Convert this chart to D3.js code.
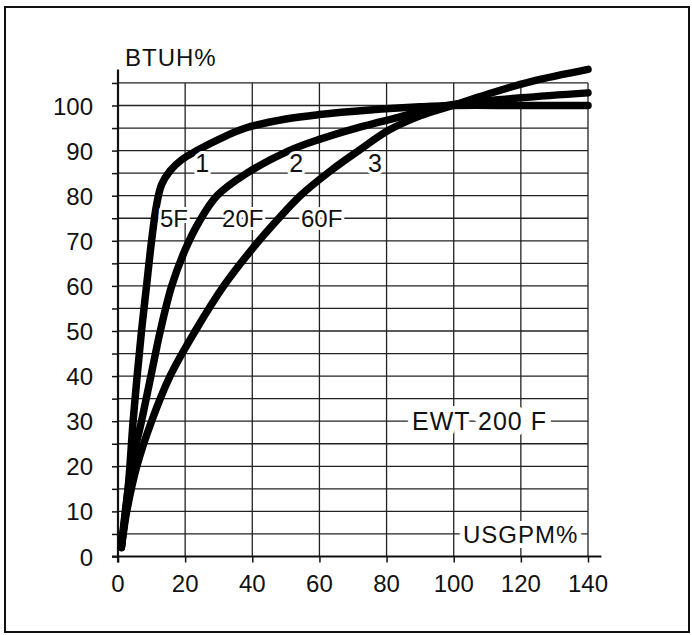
<!DOCTYPE html>
<html>
<head>
<meta charset="utf-8">
<script src="https://cdn.jsdelivr.net/npm/d3@7"></script>
<style>
  body { margin: 0; background: #fff; }
  svg text { font-family: "Liberation Sans", Arial, sans-serif; fill: #111; }
</style>
</head>
<body>
<div id="chart"></div>
<script>
// tick values
var xTicks = [0, 20, 40, 60, 80, 100, 120, 140];
var yTicks = [0, 10, 20, 30, 40, 50, 60, 70, 80, 90, 100];
var yGrid = d3.range(5, 106, 5);

// curves, [USGPM%, BTUH%]
var curve5F = [[1,2],[3,15],[4.5,30],[5.7,40],[7,50],[8.5,60],[10,70],[11.5,78],[13,82.5],[15.5,85.5],[19,88],
  [23.5,90],[30,92.5],[38,95],[50,97],[60,98],[75,99],[90,99.7],[100,100],[120,100],[140,100]];
var curve20F = [[1,2],[4,20],[7,30],[9.8,40],[12.6,50],[16,60],[20,68],[24,74],[29.5,80],[38.4,85],
  [51,90],[60,92.5],[71,95],[84,97.5],[98,100],[120,101.7],[140,102.8]];
var curve60F = [[1,2],[2.6,10],[5.6,20],[10,30],[15.5,40],[23,50],[31.5,60],[40.3,68.5],
  [47.3,74.5],[54.3,80],[63.3,85.5],[71.7,90],[80.6,94.5],[90,97.7],[99.6,100],[110,102.5],[123,105.3],[140,108]];

var curveNames = ["1", "2", "3"];
var curveTemps = ["5F", "20F", "60F"];

var width = 692, height = 635;
var svg = d3.select("#chart").append("svg")
  .attr("width", width)
  .attr("height", height);

// outer frame
svg.append("rect")
  .attr("x", 5).attr("y", 7)
  .attr("width", 684).attr("height", 625)
  .attr("fill", "none").attr("stroke", "#111").attr("stroke-width", 2);

var x = d3.scaleLinear().domain([0, 140]).range([118, 588]);
var y = d3.scaleLinear().domain([0, 100]).range([556.5, 105.5]);

// grid
svg.selectAll(".hgrid").data(yGrid).enter().append("line")
  .attr("x1", x(0)).attr("x2", x(140))
  .attr("y1", function(d){ return y(d); })
  .attr("y2", function(d){ return y(d); })
  .attr("stroke", "#222").attr("stroke-width", 1.3);

svg.selectAll(".vgrid").data(xTicks.slice(1)).enter().append("line")
  .attr("x1", function(d){ return x(d); })
  .attr("x2", function(d){ return x(d); })
  .attr("y1", y(0)).attr("y2", y(105))
  .attr("stroke", "#222").attr("stroke-width", 1.3);

// axes
var yAxis = d3.axisLeft(y).tickValues(yGrid.concat([0])).tickSize(6).tickFormat("");
var xAxis = d3.axisBottom(x).tickValues(xTicks).tickSize(6).tickFormat("");
var gy = svg.append("g").attr("transform", "translate(" + x(0) + ",0)").call(yAxis);
var gx = svg.append("g").attr("transform", "translate(0," + y(0) + ")").call(xAxis);
[gx, gy].forEach(function(g){
  g.select(".domain").remove();
  g.selectAll(".tick line").attr("stroke", "#111").attr("stroke-width", 1.5);
});

svg.append("line")
  .attr("x1", x(0)).attr("x2", x(0))
  .attr("y1", y(0) + 6).attr("y2", y(108))
  .attr("stroke", "#111").attr("stroke-width", 2.2);
svg.append("line")
  .attr("x1", x(0) - 6).attr("x2", x(144))
  .attr("y1", y(0)).attr("y2", y(0))
  .attr("stroke", "#111").attr("stroke-width", 2.2);

// tick labels
svg.selectAll(".ylab").data(yTicks).enter().append("text")
  .attr("x", 93)
  .attr("y", function(d){ return y(d) + 9; })
  .attr("text-anchor", "end")
  .attr("font-size", 24)
  .text(function(d){ return d; });

svg.selectAll(".xlab").data(xTicks).enter().append("text")
  .attr("x", function(d){ return x(d); })
  .attr("y", 592)
  .attr("text-anchor", "middle")
  .attr("font-size", 24)
  .text(function(d){ return d; });

// curves
var line = d3.line()
  .x(function(d){ return x(d[0]); })
  .y(function(d){ return y(d[1]); })
  .curve(d3.curveCatmullRom.alpha(0.5));

svg.selectAll(".curve").data([curve5F, curve20F, curve60F]).enter().append("path")
  .attr("d", line)
  .attr("fill", "none")
  .attr("stroke", "#000")
  .attr("stroke-width", 7.5)
  .attr("stroke-linecap", "round")
  .attr("stroke-linejoin", "round");

// labels with white halo
function halo(sel) {
  return sel.attr("stroke", "#fff").attr("stroke-width", 6)
    .attr("paint-order", "stroke").attr("stroke-linejoin", "round");
}

var numPos = [23, 51, 74.5];
svg.selectAll(".num").data(curveNames).enter().append("text")
  .attr("x", function(d, i){ return x(numPos[i]); })
  .attr("y", y(85) - 1)
  .attr("font-size", 25)
  .call(halo)
  .text(function(d){ return d; });

var tempPos = [12.5, 31, 54.5];
svg.selectAll(".temp").data(curveTemps).enter().append("text")
  .attr("x", function(d, i){ return x(tempPos[i]); })
  .attr("y", y(75) + 9)
  .attr("font-size", 24)
  .call(halo)
  .text(function(d){ return d; });

svg.append("text")
  .attr("x", 125).attr("y", 66)
  .attr("font-size", 24).attr("letter-spacing", 1)
  .text("BTUH%");

svg.append("text")
  .attr("x", 412).attr("y", y(30) + 9)
  .attr("font-size", 25).attr("letter-spacing", 1)
  .call(halo).attr("stroke-width", 12)
  .text("EWT 200 F");

svg.append("text")
  .attr("x", 463).attr("y", y(5) + 9)
  .attr("font-size", 24).attr("letter-spacing", 1)
  .call(halo).attr("stroke-width", 10)
  .text("USGPM%");
</script>
</body>
</html>
